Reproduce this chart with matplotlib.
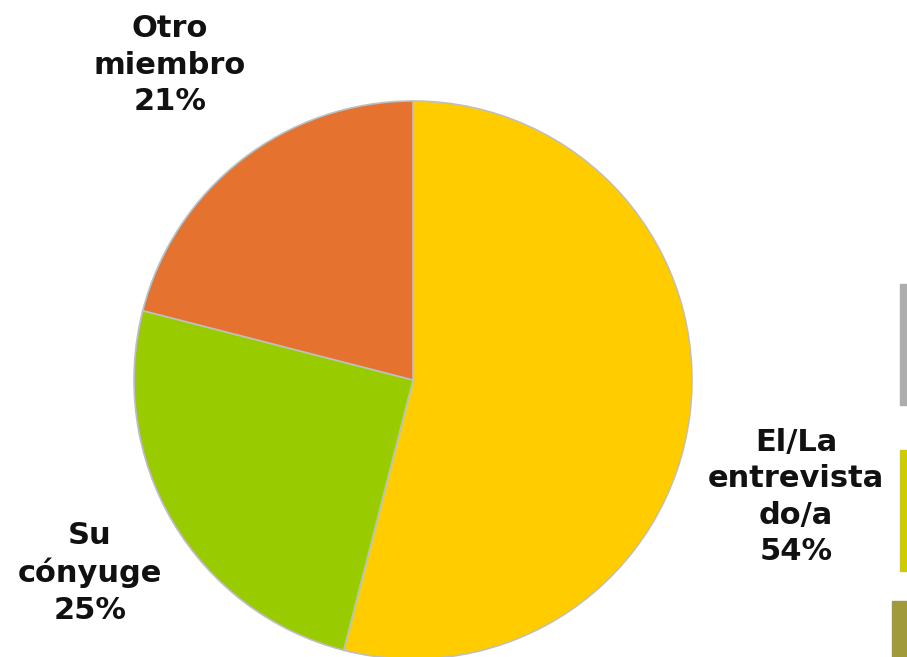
import matplotlib

matplotlib.use("Agg")
import matplotlib.pyplot as plt
from matplotlib.patches import Rectangle

# Who answers the survey (share of households)
labels = ["El/La\nentrevista\ndo/a", "Su\ncónyuge", "Otro\nmiembro"]
shares = [54, 25, 21]
colors = ["#FFCC00", "#99CC00", "#E5732F"]

W, H = 907, 657
fig = plt.figure(figsize=(W / 100, H / 100), dpi=100)
ax = fig.add_axes([0, 0, 1, 1])

cx, cy, r = 413, H - 380, 279
wedges, _ = ax.pie(
    shares,
    colors=colors,
    startangle=90,
    counterclock=False,
    center=(cx, cy),
    radius=r,
    wedgeprops={"edgecolor": "#BFBFBF", "linewidth": 1.2},
)
ax.set_xlim(0, W)
ax.set_ylim(0, H)
ax.set_aspect("equal")
ax.axis("off")

# label anchors (pixel coordinates, y measured from the bottom)
label_pos = [(796, H - 497), (90, H - 573), (170, H - 65)]
for lab, val, (x, y) in zip(labels, shares, label_pos):
    ax.text(x, y, f"{lab}\n{val}%", ha="center", va="center", fontsize=22,
            fontweight="bold", color="#111111", linespacing=1.32)

# slide decoration bars on the right edge
fig.patches.append(Rectangle((900 / W, 1 - 405 / H), 7 / W, 121 / H,
                             transform=fig.transFigure, color="#ADADAD"))
fig.patches.append(Rectangle((900 / W, 1 - 571 / H), 7 / W, 121 / H,
                             transform=fig.transFigure, color="#CCCC00"))
fig.patches.append(Rectangle((892 / W, 0), 15 / W, 56 / H,
                             transform=fig.transFigure, color="#A09A3A"))

fig.savefig("out.png", dpi=100)
